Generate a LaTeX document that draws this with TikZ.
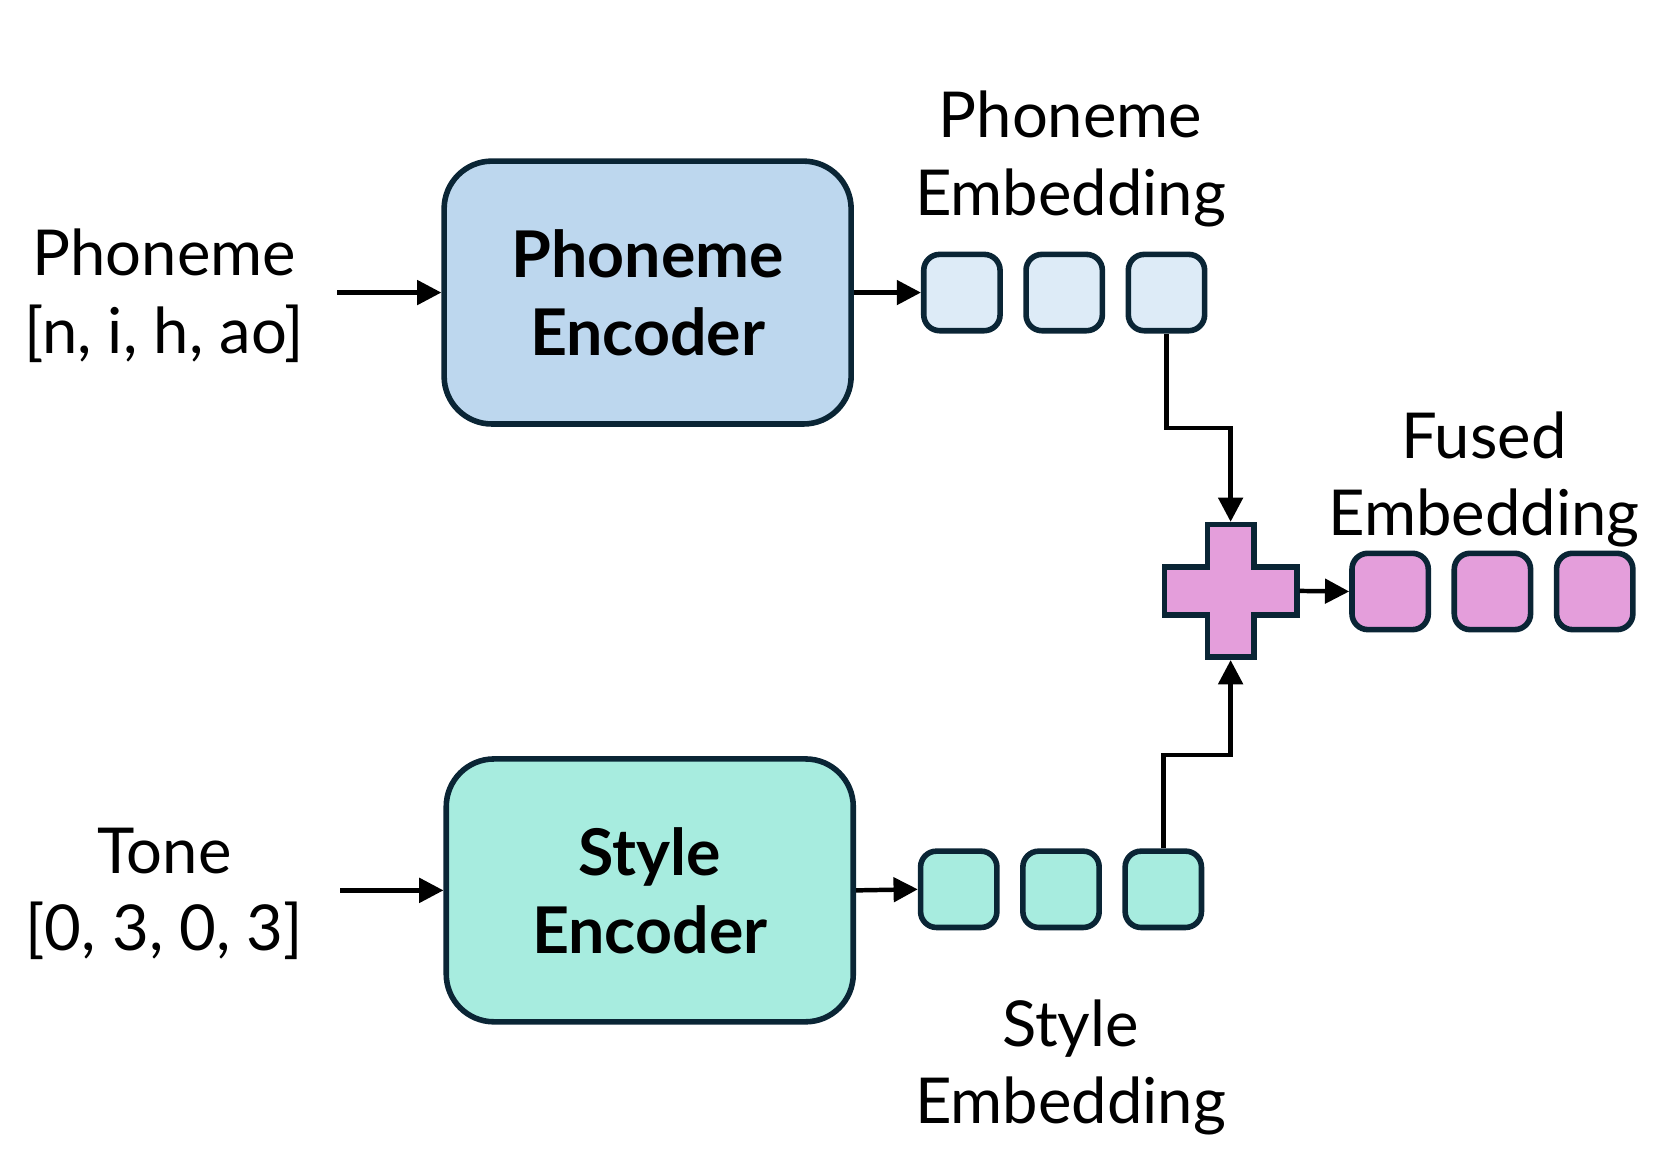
\documentclass[tikz,border=0pt]{standalone}
\usepackage{fontspec}
\setmainfont{Lato}
\usepackage{tikz}
\usetikzlibrary{positioning,arrows.meta}
\definecolor{myborder}{RGB}{10,37,53}
\definecolor{encblue}{RGB}{189,215,238}
\definecolor{embblue}{RGB}{221,235,247}
\definecolor{encgreen}{RGB}{167,236,223}
\definecolor{fusedpink}{RGB}{228,158,219}
\tikzset{
		encStyle/.style = 	{draw=myborder, line width=1.5pt, rounded corners=0.45cm, minimum width=3.84cm, minimum height=2.48cm, align=center, font=\fontsize{17.3}{20.9}\selectfont\bfseries},
		embStyle/.style = 	{draw=myborder, line width=1.5pt, rounded corners=0.15cm, minimum size=0.72cm, inner sep=0pt},
		labelStyle/.style=	{align=center, font=\fontsize{17}{20.7}\selectfont},
		arrowStyle/.style=	{line width=1.2pt, -{Triangle[length=6.5pt,width=6.5pt]}},
		node distance=0.2cm
}

\begin{document}
\begin{tikzpicture}
  \useasboundingbox (0,0) rectangle (15.68,-10.99);

  % encoders
  \node [encStyle, fill=encblue]  (penc) at (6.11,-2.76) {Phoneme\\Encoder};
  \node [encStyle, fill=encgreen] (senc) at (6.13,-8.40) {Style\\Encoder};

  % inputs
  \node [labelStyle] (phin) at (1.55,-2.79) {Phoneme\\{[n, i, h, ao]}};
  \node [labelStyle] (tonein) at (1.55,-8.43) {Tone\\{[0, 3, 0, 3]}};
  \coordinate (phstart) at (3.18,-2.76);
  \coordinate (tonestart) at (3.21,-8.40);

  % embeddings
  \foreach \i in {1,2,3}
    {\node [embStyle, fill=embblue]   (pe\i) at ({9.075+0.965*(\i-1)},-2.76) {};
     \node [embStyle, fill=encgreen]  (se\i) at ({9.045+0.965*(\i-1)},-8.39) {};
     \node [embStyle, fill=fusedpink] (fe\i) at ({13.115+0.965*(\i-1)},-5.58) {};}

  \node [labelStyle] (pelabel) at (10.10,-1.50) {Phoneme\\Embedding};
  \node [labelStyle] (selabel) at (10.10,-10.07) {Style\\Embedding};
  \node [labelStyle] (felabel) at (14.00,-4.52) {Fused\\Embedding};

  % plus
  \node [minimum width=1.29cm, minimum height=1.29cm, inner sep=0pt] (plus) at (11.61,-5.575) {};
  \draw [draw=myborder, fill=fusedpink, line width=1.5pt]
    (plus.center) ++(-0.22,0.625) -- ++(0.44,0) -- ++(0,-0.40) -- ++(0.405,0) -- ++(0,-0.45)
    -- ++(-0.405,0) -- ++(0,-0.40) -- ++(-0.44,0) -- ++(0,0.40) -- ++(-0.405,0) -- ++(0,0.45)
    -- ++(0.405,0) -- cycle;

  % connectors
  \draw [arrowStyle] (phstart) -- (penc);
  \draw [arrowStyle] (tonestart) -- (senc);
  \draw [arrowStyle] (penc.east) -- (pe1.west);
  \draw [arrowStyle] (senc.east) -- (se1.west);
  \draw [arrowStyle] (pe3.south) -- ++(0,-0.89) -| (plus.north);
  \draw [arrowStyle] (se3.north) -- ++(0,0.88) -| (plus.south);
  \draw [arrowStyle] (plus.east) -- (fe1.west);

\end{tikzpicture}
\end{document}
